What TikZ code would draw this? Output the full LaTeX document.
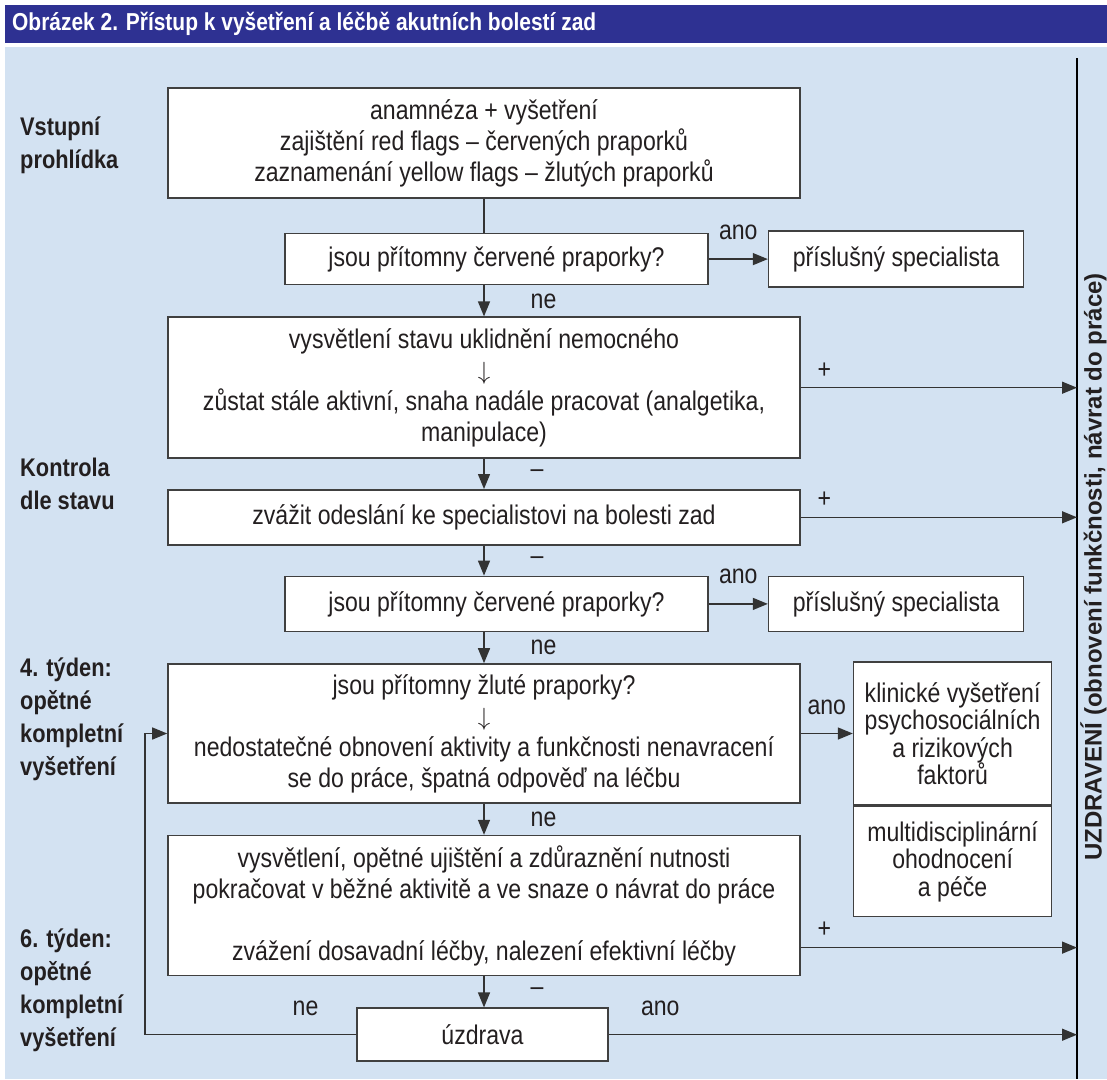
\documentclass[tikz,border=0pt]{standalone}
\usepackage{fontspec}
\setmainfont{Liberation Sans}[FakeStretch=0.855]
\newfontfamily\plainsans{Liberation Sans}
\usepackage{tikz}
\usetikzlibrary{positioning,arrows.meta}
\definecolor{titleblue}{HTML}{2E3192}
\definecolor{bgblue}{HTML}{D3E2F2}
\definecolor{ink}{HTML}{231F20}
\newcommand{\flowfont}{\fontsize{27}{31}\selectfont}
\newcommand{\sidefont}{\fontsize{27}{27.5}\selectfont}
\newcommand{\stagefont}{\fontsize{25.5}{33}\selectfont\bfseries}
\newcommand{\titlefont}{\fontsize{24.5}{26}\selectfont\bfseries}

\begin{document}
\begin{tikzpicture}[x=1pt,y=-1pt]
\tikzstyle{box}=[rectangle, draw=black!75, line width=1.6pt, fill=white, inner sep=0pt, align=center, font=\flowfont, text=ink]
\tikzstyle{connect}=[-{Triangle[length=15pt,width=12pt]}, line width=1.4pt, draw=black!80]
\tikzstyle{tag}=[font=\flowfont, inner sep=0pt, text=ink]
\tikzstyle{stage}=[font=\stagefont, align=left, anchor=west, inner sep=0pt, text=ink]
  \useasboundingbox (0,0) rectangle (1107,1079);
  \fill[titleblue] (5,5) rectangle (1107,43);
  \fill[bgblue] (5,47) rectangle (1107,1079);
  \node[anchor=west, text=white, font=\titlefont, inner sep=0pt] (titul) at (12,24) {Obrázek 2. Přístup k vyšetření a léčbě akutních bolestí zad};

  % main column
  \node[box, minimum width=632pt, minimum height=110pt] (vstup) at (484,143)
    {anamnéza + vyšetření\\ zajištění red flags – červených praporků\\ zaznamenání yellow flags – žlutých praporků};
  \node[box, minimum width=423pt, minimum height=51pt] (cerv1) [below=34pt of vstup, xshift=12.5pt] {jsou přítomny červené praporky?};
  \node[box, minimum width=255pt, minimum height=56pt] (spec1) [right=59pt of cerv1] {příslušný specialista};
  \node[box, minimum width=632pt, minimum height=141pt] (uklid) [below=31pt of cerv1, xshift=-12.5pt]
    {vysvětlení stavu uklidnění nemocného\\ $\downarrow$\\ zůstat stále aktivní, snaha nadále pracovat (analgetika,\\ manipulace)};
  \node[box, minimum width=632pt, minimum height=55pt] (zvazit) [below=30pt of uklid] {zvážit odeslání ke specialistovi na bolesti zad};
  \node[box, minimum width=423pt, minimum height=55pt] (cerv2) [below=30pt of zvazit, xshift=12.5pt] {jsou přítomny červené praporky?};
  \node[box, minimum width=255pt, minimum height=55pt] (spec2) [right=59pt of cerv2] {příslušný specialista};
  \node[box, minimum width=632pt, minimum height=139pt] (zlute) [below=31pt of cerv2, xshift=-12.5pt]
    {jsou přítomny žluté praporky?\\ $\downarrow$\\ nedostatečné obnovení aktivity a funkčnosti nenavracení\\ se do práce, špatná odpověď na léčbu};
  \node[box, font=\sidefont, minimum width=198pt, minimum height=143pt] (klinA) [right=52pt of zlute]
    {klinické vyšetření\\ psychosociálních\\ a rizikových\\ faktorů};
  \node[box, font=\sidefont, minimum width=198pt, minimum height=110pt] (klinB) [below=0pt of klinA]
    {multidisciplinární\\ ohodnocení\\ a péče};
  \node[box, minimum width=632pt, minimum height=140pt] (vysv) [below=31pt of zlute]
    {vysvětlení, opětné ujištění a zdůraznění nutnosti\\ pokračovat v běžné aktivitě a ve snaze o návrat do práce\\[31pt] zvážení dosavadní léčby, nalezení efektivní léčby};
  \node[box, minimum width=251pt, minimum height=53pt] (uzdrava) [below=31pt of vysv, xshift=-1.5pt] {úzdrava};

  % stages
  \node[stage] (vstupni) at (20,145) {Vstupní\\prohlídka};
  \node[stage] (kontrola) at (20,484) {Kontrola\\dle stavu};
  \node[stage] (tyden4) at (20,719) {4. týden:\\opětné\\kompletní\\vyšetření};
  \node[stage] (tyden6) at (20,990) {6. týden:\\opětné\\kompletní\\vyšetření};

  % recovery line
  \coordinate (cilt) at (1077,58);
  \coordinate (cilb) at (1077,1079);
  \coordinate (loopx) at (145,1000);
  \draw[line width=2.6pt, black] (cilt) -- (cilb);
  \node[rotate=90, font=\plainsans\fontsize{24}{28}\selectfont\bfseries, text=ink, inner sep=0pt] (uzdraveni) at (1093.5,567)
    {UZDRAVENÍ (obnovení funkčnosti, návrat do práce)};

  \draw[line width=1.4pt, black!80] (vstup.south) -- (vstup.south |- cerv1.north);
  \draw[connect] (cerv1.east) -- node[tag, above=19pt] {ano} (spec1.west);
  \draw[connect] (cerv1.south -| vstup.south) -- node[tag, right=46pt] {ne} (uklid.north);
  \draw[connect] (uklid.east) -- node[tag, pos=0.085, above=9pt] {+} (uklid.east -| cilt);
  \draw[connect] (uklid.south) -- node[tag, right=46pt] {–} (zvazit.north);
  \draw[connect] (zvazit.east) -- node[tag, pos=0.085, above=9pt] {+} (zvazit.east -| cilt);
  \draw[connect] (zvazit.south) -- node[tag, right=46pt] {–} (zvazit.south |- cerv2.north);
  \draw[connect] (cerv2.east) -- node[tag, above=19pt] {ano} (spec2.west);
  \draw[connect] (cerv2.south -| zvazit.south) -- node[tag, right=46pt] {ne} (zlute.north);
  \draw[connect] (zlute.east) -- node[tag, above=18pt] {ano} (zlute.east -| klinA.west);
  \draw[connect] (zlute.south) -- node[tag, right=46pt] {ne} (vysv.north);
  \draw[connect] ([yshift=-42pt]vysv.east) -- node[tag, pos=0.085, above=9pt] {+} ([yshift=-42pt]vysv.east -| cilt);
  \draw[connect] (vysv.south) -- node[tag, right=46pt] {–} (vysv.south |- uzdrava.north);
  \draw[connect] (uzdrava.east) -- node[tag, pos=0.11, above=18pt] {ano} (uzdrava.east -| cilt);
  \draw[connect] (uzdrava.west) -- node[tag, pos=0.24, above=18pt] {ne} (uzdrava.west -| loopx) |- (zlute.west);
\end{tikzpicture}
\end{document}
